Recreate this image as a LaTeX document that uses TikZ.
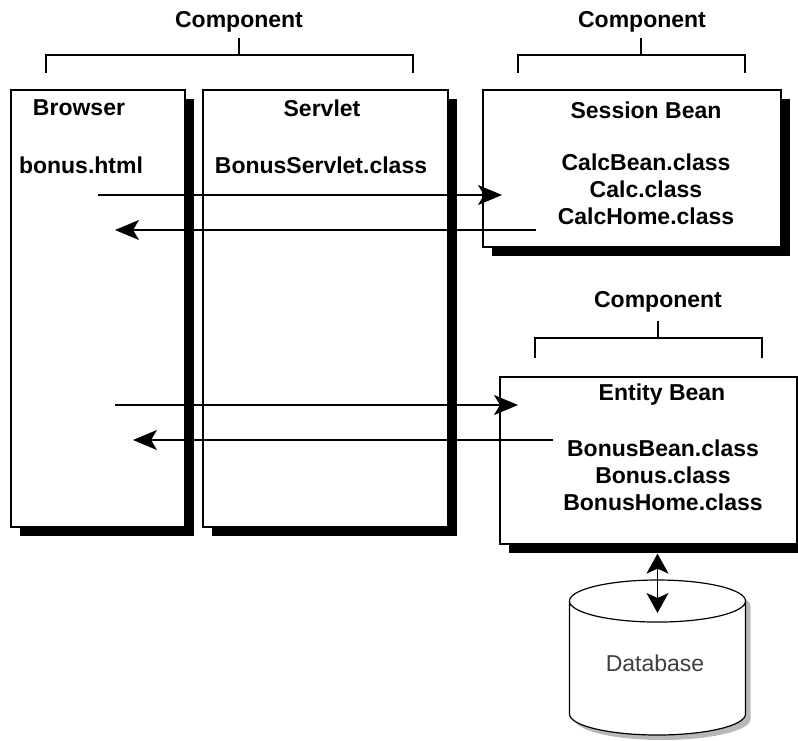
\documentclass[tikz,border=0pt]{standalone}
\usepackage{fontspec}
\setmainfont{Liberation Sans}
\usetikzlibrary{arrows.meta,shapes.geometric,shadows,positioning}

\begin{document}
\begin{tikzpicture}[
    x=1pt, y=-1pt,
    box/.style={rectangle, draw, fill=white, line width=1.2pt, inner sep=0pt,
        drop shadow={shadow xshift=9pt, shadow yshift=-9pt, fill=black, opacity=1}},
    lbl/.style={font={\fontsize{23}{27}\selectfont\bfseries}, align=center, inner sep=0pt},
    arrow/.style={-{Stealth[length=24pt, width=20pt, inset=6pt]}, line width=1.2pt},
    dblarrow/.style={{Stealth[length=20pt, width=22pt, inset=5pt]}-{Stealth[length=20pt, width=22pt, inset=5pt]}, line width=1.2pt},
    bracket/.style={line width=1.2pt},
    dbfont/.style={font={\fontsize{23}{27}\selectfont}, text=black!75}
]
    \useasboundingbox (0,0) rectangle (798,740);

    % Components
    \node[box, minimum width=174pt, minimum height=437pt] (browser) at (98,308.5) {};
    \node[box, minimum width=245pt, minimum height=437pt] (servlet) at (325.5,308.5) {};
    \node[box, minimum width=298pt, minimum height=157pt] (session) at (632,168.5) {};
    \node[box, minimum width=297pt, minimum height=167pt] (entity) at (648.5,460.5) {};

    % Database
    \node[cylinder, shape border rotate=90, draw, fill=white, line width=1.2pt, aspect=0.4,
        minimum width=176pt, minimum height=155pt, outer sep=0pt, anchor=north, dbfont,
        drop shadow={shadow xshift=5pt, shadow yshift=-5pt, fill=black!35, opacity=0.8}] (db) at (657.5,580) {\phantom{Database}};
    \node[dbfont, inner sep=0pt] (dbT) at (655,663) {Database};

    % Texts
    \node[lbl] (browserT) at (79,108) {Browser};
    \node[lbl] (html) at (81,165) {bonus.html};
    \node[lbl] (servletT) at (322,108) {Servlet};
    \node[lbl] (servletC) at (321,165) {BonusServlet.class};
    \node[lbl] (sessionT) at (646,110) {Session Bean};
    \node[lbl] (calc) at (646,189) {CalcBean.class\\Calc.class\\CalcHome.class};
    \node[lbl] (entityT) at (662,395) {Entity Bean};
    \node[lbl] (bonus) at (663,475) {BonusBean.class\\Bonus.class\\BonusHome.class};

    % Brackets
    \node[lbl] (comp1) at (239,22) {Component};
    \draw[bracket] (46,73) -- (46,55) -- (413,55) -- (413,73) (239,55) -- (239,38);
    \node[lbl] (comp2) at (642,22) {Component};
    \draw[bracket] (518,73) -- (518,55) -- (745,55) -- (745,73) (641,55) -- (641,38);
    \node[lbl] (comp3) at (658,302) {Component};
    \draw[bracket] (535,358) -- (535,338) -- (762,338) -- (762,358) (658,338) -- (658,321);

    % Calls
    \coordinate (callS) at (98,195);
    \coordinate (sesIn) at (502,195);
    \coordinate (sesOut) at (536,230);
    \coordinate (retS) at (115,230);
    \coordinate (callE) at (115,405);
    \coordinate (entIn) at (518,405);
    \coordinate (entOut) at (553,440);
    \coordinate (retE) at (133,440);
    \draw[arrow] (callS) -- (sesIn);
    \draw[arrow] (sesOut) -- (retS);
    \draw[arrow] (callE) -- (entIn);
    \draw[arrow] (entOut) -- (retE);

    % Entity <-> Database
    \coordinate (dbTop) at (657.5,613);
    \draw[dblarrow] ([yshift=-9pt]entity.south -| dbTop) -- (dbTop);
\end{tikzpicture}
\end{document}
